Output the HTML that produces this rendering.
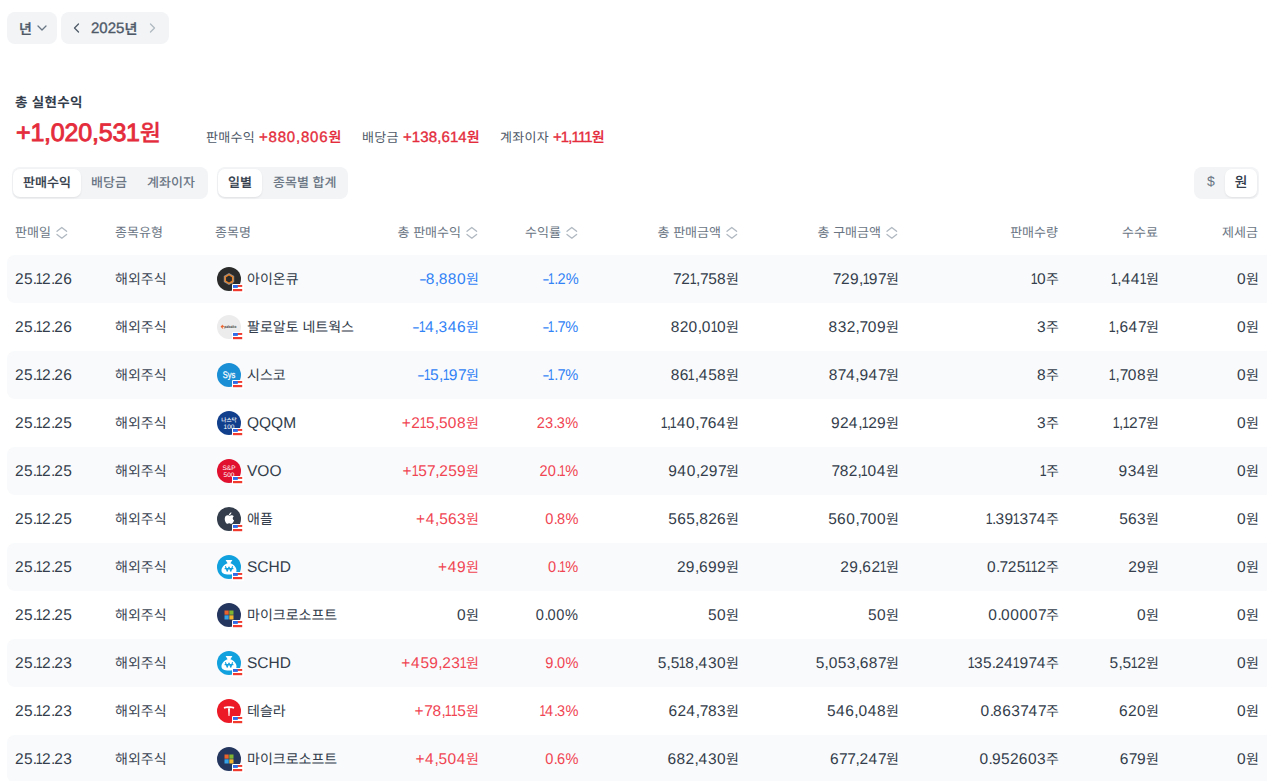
<!DOCTYPE html>
<html lang="ko"><head><meta charset="utf-8"><title>실현수익</title>
<style>
*{box-sizing:border-box;margin:0;padding:0}
html,body{width:1271px;height:781px;overflow:hidden;background:#fff}
body{position:relative;font-family:"Liberation Sans","Noto Sans CJK KR",sans-serif;color:#333d4b;text-rendering:geometricPrecision}
.abs{position:absolute}
.btn{position:absolute;top:12px;height:32px;background:#f2f4f6;border-radius:8px}
.btn span{position:absolute;white-space:nowrap}
.title{position:absolute;left:15px;top:94px;font-size:13.5px;letter-spacing:0.3px;font-weight:700;color:#333d4b;line-height:18px}
.big{position:absolute;left:16px;top:117px;font-size:25px;font-weight:400;-webkit-text-stroke:0.9px #e42c3c;color:#e42c3c;line-height:32px;letter-spacing:-0.2px}
.big .k{font-size:23px;font-weight:500;-webkit-text-stroke:0.3px #e42c3c}
.sub{position:absolute;top:129px;font-size:13px;letter-spacing:0.3px;line-height:18px;color:#4e5968;white-space:nowrap}
.subv{position:absolute;top:127px;font-size:15px;line-height:20px;color:#e42c3c;font-weight:400;-webkit-text-stroke:0.35px #e42c3c;letter-spacing:0.5px;white-space:nowrap}
.subv .k{font-size:14px;letter-spacing:0;font-weight:500;-webkit-text-stroke:0.2px #e42c3c}
.seg{position:absolute;top:167px;height:32px;background:#f2f4f6;border-radius:8px}
.seg span{position:absolute;top:2px;height:28px;line-height:28px;font-size:13px;font-weight:500;color:#6b7684;white-space:nowrap}
.seg span.on{background:#fff;border-radius:7px;color:#333d4b;font-weight:500;-webkit-text-stroke:0.15px #333d4b;box-shadow:0 1px 2px rgba(0,0,0,0.08)}
.hd{position:absolute;top:224px;font-size:13px;font-weight:400;line-height:18px;color:#6b7684;white-space:nowrap;display:flex;align-items:center}
.hd .sort{margin-left:5px;margin-top:-1px}
.row{position:absolute;left:7px;width:1260px;height:48px}
.row.odd{background:#f9fafb;border-radius:8px 0 0 8px}
.c{position:absolute;top:0;line-height:48px;font-size:15.5px;white-space:nowrap;color:#333d4b}
.c i{font-style:normal}
.c.rt{transform:scaleX(0.94);transform-origin:100% 50%;top:1px}
.c.d{top:1px}
.g0{letter-spacing:0.59px}.g2{letter-spacing:0.27px}.g3{letter-spacing:0.39px}.g4{letter-spacing:0.81px}.g5{letter-spacing:0.24px}.g6{letter-spacing:0.42px}.g7{letter-spacing:-0.39px}.g8{letter-spacing:0.41px}.g9{letter-spacing:0.42px}.gc{letter-spacing:-0.25px}.gp{letter-spacing:-0.9px}.gpl{letter-spacing:0.62px}.gpc{letter-spacing:0.69px}
.g1{display:inline-block;transform:scaleX(0.8);margin:0 -1.4px;letter-spacing:0}
.gm{display:inline-block;transform:scaleX(1.5);transform-origin:0 50%;margin-right:1.66px;letter-spacing:0}
.c .k{font-size:14px;letter-spacing:0}

.c.t{color:#3c4655}
.neg{color:#3182f6 !important}
.pos{color:#f04452 !important}
.ic{position:absolute;top:12px;width:24px;height:24px}
.ic svg{display:block}
.ic .flag{position:absolute;left:15px;top:17px}
</style></head><body>
<div class="btn" style="left:7px;width:50px"><span style="left:12px;top:6.5px;font-size:14px;font-weight:500;color:#4e5968;-webkit-text-stroke:0.3px #4e5968;line-height:20px">년</span>
<svg class="abs" style="left:30px;top:13px" width="10" height="6" viewBox="0 0 10 6"><path d="M1 1l4 4 4-4" stroke="#6b7684" stroke-width="1.3" fill="none" stroke-linecap="round" stroke-linejoin="round"/></svg></div>
<div class="btn" style="left:61px;width:108px">
<svg class="abs" style="left:12px;top:11px" width="7" height="10" viewBox="0 0 7 10"><path d="M5.5 1L1.5 5l4 4" stroke="#4e5968" stroke-width="1.3" fill="none" stroke-linecap="round" stroke-linejoin="round"/></svg>
<span style="left:30px;top:6.5px;font-size:15px;font-weight:500;color:#4e5968;-webkit-text-stroke:0.35px #4e5968;line-height:20px">2025<span style="font-size:14px">년</span></span>
<svg class="abs" style="left:88px;top:11px" width="7" height="10" viewBox="0 0 7 10"><path d="M1.5 1l4 4-4 4" stroke="#b0b8c1" stroke-width="1.3" fill="none" stroke-linecap="round" stroke-linejoin="round"/></svg></div>

<div class="title">총 실현수익</div>
<div class="big">+1,020,531<span class="k">원</span></div>
<div class="sub" style="left:206px">판매수익</div><div class="subv" style="left:259px;letter-spacing:0.8px">+880,806<span class="k">원</span></div>
<div class="sub" style="left:362px">배당금</div><div class="subv" style="left:403px;letter-spacing:0.1px">+138,614<span class="k">원</span></div>
<div class="sub" style="left:500px">계좌이자</div><div class="subv" style="left:553px;letter-spacing:-0.9px">+1,111<span class="k">원</span></div>

<div class="seg" style="left:12px;width:196px">
<span class="on" style="left:1px;width:68px;text-align:center">판매수익</span>
<span style="left:79px">배당금</span>
<span style="left:135px">계좌이자</span>
</div>
<div class="seg" style="left:217px;width:131px">
<span class="on" style="left:1px;width:44px;text-align:center">일별</span>
<span style="left:56px">종목별 합계</span>
</div>
<div class="seg" style="left:1194px;width:65px">
<span style="left:13px;top:0px;font-size:14px">$</span>
<span class="on" style="left:31px;width:32px;text-align:center;font-size:14px;font-weight:500;-webkit-text-stroke:0;line-height:27px">원</span>
</div>

<div class="hd" style="left:15px">판매일<svg class="sort" width="12" height="14" viewBox="0 0 12 14"><path d="M1 5.3L5.8 1.5l4.8 3.8M1 8.4l4.8 3.8 4.8-3.8" stroke="#b0b8c1" stroke-width="1.3" fill="none" stroke-linecap="round" stroke-linejoin="round"/></svg></div>
<div class="hd" style="left:115px">종목유형</div>
<div class="hd" style="left:215px">종목명</div>
<div class="hd" style="right:793px">총 판매수익<svg class="sort" width="12" height="14" viewBox="0 0 12 14"><path d="M1 5.3L5.8 1.5l4.8 3.8M1 8.4l4.8 3.8 4.8-3.8" stroke="#b0b8c1" stroke-width="1.3" fill="none" stroke-linecap="round" stroke-linejoin="round"/></svg></div>
<div class="hd" style="right:693px">수익률<svg class="sort" width="12" height="14" viewBox="0 0 12 14"><path d="M1 5.3L5.8 1.5l4.8 3.8M1 8.4l4.8 3.8 4.8-3.8" stroke="#b0b8c1" stroke-width="1.3" fill="none" stroke-linecap="round" stroke-linejoin="round"/></svg></div>
<div class="hd" style="right:533px">총 판매금액<svg class="sort" width="12" height="14" viewBox="0 0 12 14"><path d="M1 5.3L5.8 1.5l4.8 3.8M1 8.4l4.8 3.8 4.8-3.8" stroke="#b0b8c1" stroke-width="1.3" fill="none" stroke-linecap="round" stroke-linejoin="round"/></svg></div>
<div class="hd" style="right:373px">총 구매금액<svg class="sort" width="12" height="14" viewBox="0 0 12 14"><path d="M1 5.3L5.8 1.5l4.8 3.8M1 8.4l4.8 3.8 4.8-3.8" stroke="#b0b8c1" stroke-width="1.3" fill="none" stroke-linecap="round" stroke-linejoin="round"/></svg></div>
<div class="hd" style="right:213px">판매수량</div>
<div class="hd" style="right:113px">수수료</div>
<div class="hd" style="right:13px">제세금</div>

<div class="row odd" style="top:255px"><span class="c l d" style="left:8px"><i class="g2">2</i><i class="g5">5</i><i class="gp">.</i><i class="g1">1</i><i class="g2">2</i><i class="gp">.</i><i class="g2">2</i><i class="g6">6</i></span><span class="c l t" style="left:108px"><span class="k">해외주식</span></span><span class="ic" style="left:210px"><svg width="24" height="24" viewBox="0 0 24 24"><circle cx="12" cy="12" r="12" fill="#2b2b2b"/><path d="M12 6l5.2 3v6L12 18l-5.2-3V9z" fill="#8c8c8c"/><path d="M12 6.9l4.4 2.55v5.1L12 17.1l-4.4-2.55v-5.1z" fill="#e8822a"/><path d="M12 8.6l2.95 1.7v3.4L12 15.4l-2.95-1.7v-3.4z" fill="#2b2b2b"/><path d="M14.6 14.9l1.6.9-0.6.9-1.6-.9z" fill="#e8822a"/></svg><svg class="flag" width="12" height="9" viewBox="0 0 12 9"><rect x="0" y="0" width="12" height="9" rx="1" fill="#fff"/><rect x="1" y="1" width="9.2" height="1.9" fill="#f03a2e"/><rect x="1" y="5" width="9.2" height="2.2" fill="#f03a2e"/><rect x="1" y="1" width="4.8" height="2.9" fill="#2f6be8"/></svg></span><span class="c l" style="left:240px"><span class="k">아이온큐</span></span><span class="c r neg" style="right:788px"><i class="gm">-</i><i class="g8">8</i><i class="gc">,</i><i class="g8">8</i><i class="g8">8</i><i class="g0">0</i><span class="k">원</span></span><span class="c r neg rt" style="right:688px"><i class="gm">-</i><i class="g1">1</i><i class="gp">.</i><i class="g2">2</i><i class="gpc">%</i></span><span class="c r" style="right:528px"><i class="g7">7</i><i class="g2">2</i><i class="g1">1</i><i class="gc">,</i><i class="g7">7</i><i class="g5">5</i><i class="g8">8</i><span class="k">원</span></span><span class="c r" style="right:368px"><i class="g7">7</i><i class="g2">2</i><i class="g9">9</i><i class="gc">,</i><i class="g1">1</i><i class="g9">9</i><i class="g7">7</i><span class="k">원</span></span><span class="c r" style="right:208px"><i class="g1">1</i><i class="g0">0</i><span class="k">주</span></span><span class="c r" style="right:108px"><i class="g1">1</i><i class="gc">,</i><i class="g4">4</i><i class="g4">4</i><i class="g1">1</i><span class="k">원</span></span><span class="c r" style="right:8px"><i class="g0">0</i><span class="k">원</span></span></div>
<div class="row" style="top:303px"><span class="c l d" style="left:8px"><i class="g2">2</i><i class="g5">5</i><i class="gp">.</i><i class="g1">1</i><i class="g2">2</i><i class="gp">.</i><i class="g2">2</i><i class="g6">6</i></span><span class="c l t" style="left:108px"><span class="k">해외주식</span></span><span class="ic" style="left:210px"><svg width="24" height="24" viewBox="0 0 24 24"><circle cx="12" cy="12" r="12" fill="#ececec"/><path d="M3.6 11.6l1.6-1.5 1.3 1.2-1.3 1.2 1.3 1.2-1.3-0.1z" fill="#f0622d"/><path d="M5.4 10.2l1.3 1.2-1.3 1.2" fill="none" stroke="#f0622d" stroke-width="1"/><text x="7.3" y="12.6" font-family="Liberation Sans, sans-serif" font-size="4" font-weight="700" fill="#3a3a3a" textLength="12" lengthAdjust="spacingAndGlyphs">paloalto</text></svg><svg class="flag" width="12" height="9" viewBox="0 0 12 9"><rect x="0" y="0" width="12" height="9" rx="1" fill="#fff"/><rect x="1" y="1" width="9.2" height="1.9" fill="#f03a2e"/><rect x="1" y="5" width="9.2" height="2.2" fill="#f03a2e"/><rect x="1" y="1" width="4.8" height="2.9" fill="#2f6be8"/></svg></span><span class="c l" style="left:240px"><span class="k">팔로알토 네트웍스</span></span><span class="c r neg" style="right:788px"><i class="gm">-</i><i class="g1">1</i><i class="g4">4</i><i class="gc">,</i><i class="g3">3</i><i class="g4">4</i><i class="g6">6</i><span class="k">원</span></span><span class="c r neg rt" style="right:688px"><i class="gm">-</i><i class="g1">1</i><i class="gp">.</i><i class="g7">7</i><i class="gpc">%</i></span><span class="c r" style="right:528px"><i class="g8">8</i><i class="g2">2</i><i class="g0">0</i><i class="gc">,</i><i class="g0">0</i><i class="g1">1</i><i class="g0">0</i><span class="k">원</span></span><span class="c r" style="right:368px"><i class="g8">8</i><i class="g3">3</i><i class="g2">2</i><i class="gc">,</i><i class="g7">7</i><i class="g0">0</i><i class="g9">9</i><span class="k">원</span></span><span class="c r" style="right:208px"><i class="g3">3</i><span class="k">주</span></span><span class="c r" style="right:108px"><i class="g1">1</i><i class="gc">,</i><i class="g6">6</i><i class="g4">4</i><i class="g7">7</i><span class="k">원</span></span><span class="c r" style="right:8px"><i class="g0">0</i><span class="k">원</span></span></div>
<div class="row odd" style="top:351px"><span class="c l d" style="left:8px"><i class="g2">2</i><i class="g5">5</i><i class="gp">.</i><i class="g1">1</i><i class="g2">2</i><i class="gp">.</i><i class="g2">2</i><i class="g6">6</i></span><span class="c l t" style="left:108px"><span class="k">해외주식</span></span><span class="ic" style="left:210px"><svg width="24" height="24" viewBox="0 0 24 24"><circle cx="12" cy="12" r="12" fill="#1a8fd6"/><text x="12" y="15.3" text-anchor="middle" font-family="Liberation Sans, sans-serif" font-size="9.5" font-weight="400" fill="#fff" textLength="12.5" lengthAdjust="spacingAndGlyphs" stroke="#fff" stroke-width="0.25">Sys</text></svg><svg class="flag" width="12" height="9" viewBox="0 0 12 9"><rect x="0" y="0" width="12" height="9" rx="1" fill="#fff"/><rect x="1" y="1" width="9.2" height="1.9" fill="#f03a2e"/><rect x="1" y="5" width="9.2" height="2.2" fill="#f03a2e"/><rect x="1" y="1" width="4.8" height="2.9" fill="#2f6be8"/></svg></span><span class="c l" style="left:240px"><span class="k">시스코</span></span><span class="c r neg" style="right:788px"><i class="gm">-</i><i class="g1">1</i><i class="g5">5</i><i class="gc">,</i><i class="g1">1</i><i class="g9">9</i><i class="g7">7</i><span class="k">원</span></span><span class="c r neg rt" style="right:688px"><i class="gm">-</i><i class="g1">1</i><i class="gp">.</i><i class="g7">7</i><i class="gpc">%</i></span><span class="c r" style="right:528px"><i class="g8">8</i><i class="g6">6</i><i class="g1">1</i><i class="gc">,</i><i class="g4">4</i><i class="g5">5</i><i class="g8">8</i><span class="k">원</span></span><span class="c r" style="right:368px"><i class="g8">8</i><i class="g7">7</i><i class="g4">4</i><i class="gc">,</i><i class="g9">9</i><i class="g4">4</i><i class="g7">7</i><span class="k">원</span></span><span class="c r" style="right:208px"><i class="g8">8</i><span class="k">주</span></span><span class="c r" style="right:108px"><i class="g1">1</i><i class="gc">,</i><i class="g7">7</i><i class="g0">0</i><i class="g8">8</i><span class="k">원</span></span><span class="c r" style="right:8px"><i class="g0">0</i><span class="k">원</span></span></div>
<div class="row" style="top:399px"><span class="c l d" style="left:8px"><i class="g2">2</i><i class="g5">5</i><i class="gp">.</i><i class="g1">1</i><i class="g2">2</i><i class="gp">.</i><i class="g2">2</i><i class="g5">5</i></span><span class="c l t" style="left:108px"><span class="k">해외주식</span></span><span class="ic" style="left:210px"><svg width="24" height="24" viewBox="0 0 24 24"><circle cx="12" cy="12" r="12" fill="#123f8c"/><text x="12" y="10.5" text-anchor="middle" font-family="Noto Sans CJK KR, sans-serif" font-size="5.6" font-weight="500" fill="#fff">나스닥</text><text x="12" y="17.5" text-anchor="middle" font-family="Liberation Sans, sans-serif" font-size="6.5" font-weight="400" fill="#fff">100</text></svg><svg class="flag" width="12" height="9" viewBox="0 0 12 9"><rect x="0" y="0" width="12" height="9" rx="1" fill="#fff"/><rect x="1" y="1" width="9.2" height="1.9" fill="#f03a2e"/><rect x="1" y="5" width="9.2" height="2.2" fill="#f03a2e"/><rect x="1" y="1" width="4.8" height="2.9" fill="#2f6be8"/></svg></span><span class="c l d" style="left:240px">QQQM</span><span class="c r pos" style="right:788px"><i class="gpl">+</i><i class="g2">2</i><i class="g1">1</i><i class="g5">5</i><i class="gc">,</i><i class="g5">5</i><i class="g0">0</i><i class="g8">8</i><span class="k">원</span></span><span class="c r pos rt" style="right:688px"><i class="g2">2</i><i class="g3">3</i><i class="gp">.</i><i class="g3">3</i><i class="gpc">%</i></span><span class="c r" style="right:528px"><i class="g1">1</i><i class="gc">,</i><i class="g1">1</i><i class="g4">4</i><i class="g0">0</i><i class="gc">,</i><i class="g7">7</i><i class="g6">6</i><i class="g4">4</i><span class="k">원</span></span><span class="c r" style="right:368px"><i class="g9">9</i><i class="g2">2</i><i class="g4">4</i><i class="gc">,</i><i class="g1">1</i><i class="g2">2</i><i class="g9">9</i><span class="k">원</span></span><span class="c r" style="right:208px"><i class="g3">3</i><span class="k">주</span></span><span class="c r" style="right:108px"><i class="g1">1</i><i class="gc">,</i><i class="g1">1</i><i class="g2">2</i><i class="g7">7</i><span class="k">원</span></span><span class="c r" style="right:8px"><i class="g0">0</i><span class="k">원</span></span></div>
<div class="row odd" style="top:447px"><span class="c l d" style="left:8px"><i class="g2">2</i><i class="g5">5</i><i class="gp">.</i><i class="g1">1</i><i class="g2">2</i><i class="gp">.</i><i class="g2">2</i><i class="g5">5</i></span><span class="c l t" style="left:108px"><span class="k">해외주식</span></span><span class="ic" style="left:210px"><svg width="24" height="24" viewBox="0 0 24 24"><circle cx="12" cy="12" r="12" fill="#e0102e"/><text x="12" y="10.8" text-anchor="middle" font-family="Liberation Sans, sans-serif" font-size="6.5" font-weight="400" fill="#fff">S&amp;P</text><text x="12" y="17.5" text-anchor="middle" font-family="Liberation Sans, sans-serif" font-size="6.5" font-weight="400" fill="#fff">500</text></svg><svg class="flag" width="12" height="9" viewBox="0 0 12 9"><rect x="0" y="0" width="12" height="9" rx="1" fill="#fff"/><rect x="1" y="1" width="9.2" height="1.9" fill="#f03a2e"/><rect x="1" y="5" width="9.2" height="2.2" fill="#f03a2e"/><rect x="1" y="1" width="4.8" height="2.9" fill="#2f6be8"/></svg></span><span class="c l d" style="left:240px">VOO</span><span class="c r pos" style="right:788px"><i class="gpl">+</i><i class="g1">1</i><i class="g5">5</i><i class="g7">7</i><i class="gc">,</i><i class="g2">2</i><i class="g5">5</i><i class="g9">9</i><span class="k">원</span></span><span class="c r pos rt" style="right:688px"><i class="g2">2</i><i class="g0">0</i><i class="gp">.</i><i class="g1">1</i><i class="gpc">%</i></span><span class="c r" style="right:528px"><i class="g9">9</i><i class="g4">4</i><i class="g0">0</i><i class="gc">,</i><i class="g2">2</i><i class="g9">9</i><i class="g7">7</i><span class="k">원</span></span><span class="c r" style="right:368px"><i class="g7">7</i><i class="g8">8</i><i class="g2">2</i><i class="gc">,</i><i class="g1">1</i><i class="g0">0</i><i class="g4">4</i><span class="k">원</span></span><span class="c r" style="right:208px"><i class="g1">1</i><span class="k">주</span></span><span class="c r" style="right:108px"><i class="g9">9</i><i class="g3">3</i><i class="g4">4</i><span class="k">원</span></span><span class="c r" style="right:8px"><i class="g0">0</i><span class="k">원</span></span></div>
<div class="row" style="top:495px"><span class="c l d" style="left:8px"><i class="g2">2</i><i class="g5">5</i><i class="gp">.</i><i class="g1">1</i><i class="g2">2</i><i class="gp">.</i><i class="g2">2</i><i class="g5">5</i></span><span class="c l t" style="left:108px"><span class="k">해외주식</span></span><span class="ic" style="left:210px"><svg width="24" height="24" viewBox="0 0 24 24"><circle cx="12" cy="12" r="12" fill="#333d4b"/><g transform="translate(12 12) scale(1.3) translate(-12 -12)"><path d="M12.3 7.9c.4-.6.9-1 1.5-1.1.1.7-.2 1.3-.6 1.7-.4.4-.9.6-1.3.6-.1-.5.1-.9.4-1.2zM9.4 9.7c.8-.7 1.8-.7 2.6-.3.4.2.7.2 1.1 0 .9-.4 2-.3 2.6.5-1.2.8-1.1 2.6.2 3.2-.4 1.1-1.1 2.2-1.8 2.5-.5.2-.9 0-1.4-.2-.4-.1-.8-.1-1.2.1-.5.2-1 .3-1.4-.1-1.2-1.1-2-3.9-.7-5.7z" fill="#fff"/></g></svg><svg class="flag" width="12" height="9" viewBox="0 0 12 9"><rect x="0" y="0" width="12" height="9" rx="1" fill="#fff"/><rect x="1" y="1" width="9.2" height="1.9" fill="#f03a2e"/><rect x="1" y="5" width="9.2" height="2.2" fill="#f03a2e"/><rect x="1" y="1" width="4.8" height="2.9" fill="#2f6be8"/></svg></span><span class="c l" style="left:240px"><span class="k">애플</span></span><span class="c r pos" style="right:788px"><i class="gpl">+</i><i class="g4">4</i><i class="gc">,</i><i class="g5">5</i><i class="g6">6</i><i class="g3">3</i><span class="k">원</span></span><span class="c r pos rt" style="right:688px"><i class="g0">0</i><i class="gp">.</i><i class="g8">8</i><i class="gpc">%</i></span><span class="c r" style="right:528px"><i class="g5">5</i><i class="g6">6</i><i class="g5">5</i><i class="gc">,</i><i class="g8">8</i><i class="g2">2</i><i class="g6">6</i><span class="k">원</span></span><span class="c r" style="right:368px"><i class="g5">5</i><i class="g6">6</i><i class="g0">0</i><i class="gc">,</i><i class="g7">7</i><i class="g0">0</i><i class="g0">0</i><span class="k">원</span></span><span class="c r" style="right:208px"><i class="g1">1</i><i class="gp">.</i><i class="g3">3</i><i class="g9">9</i><i class="g1">1</i><i class="g3">3</i><i class="g7">7</i><i class="g4">4</i><span class="k">주</span></span><span class="c r" style="right:108px"><i class="g5">5</i><i class="g6">6</i><i class="g3">3</i><span class="k">원</span></span><span class="c r" style="right:8px"><i class="g0">0</i><span class="k">원</span></span></div>
<div class="row odd" style="top:543px"><span class="c l d" style="left:8px"><i class="g2">2</i><i class="g5">5</i><i class="gp">.</i><i class="g1">1</i><i class="g2">2</i><i class="gp">.</i><i class="g2">2</i><i class="g5">5</i></span><span class="c l t" style="left:108px"><span class="k">해외주식</span></span><span class="ic" style="left:210px"><svg width="24" height="24" viewBox="0 0 24 24"><circle cx="12" cy="12" r="12" fill="#12a1df"/><path d="M8.6 5h6.8l-2 3.2c3.6 1.2 6.1 4.2 6.1 7.2 0 2.7-2.6 4.1-7.5 4.1s-7.5-1.4-7.5-4.1c0-3 2.5-6 6.1-7.2z" fill="#fff"/><path d="M8.4 11.2l1.8 5 1.8-4.2 1.8 4.2 1.8-5M7.6 13.6h8.8" stroke="#12a1df" stroke-width="1.1" fill="none" stroke-linejoin="round"/></svg><svg class="flag" width="12" height="9" viewBox="0 0 12 9"><rect x="0" y="0" width="12" height="9" rx="1" fill="#fff"/><rect x="1" y="1" width="9.2" height="1.9" fill="#f03a2e"/><rect x="1" y="5" width="9.2" height="2.2" fill="#f03a2e"/><rect x="1" y="1" width="4.8" height="2.9" fill="#2f6be8"/></svg></span><span class="c l d" style="left:240px">SCHD</span><span class="c r pos" style="right:788px"><i class="gpl">+</i><i class="g4">4</i><i class="g9">9</i><span class="k">원</span></span><span class="c r pos rt" style="right:688px"><i class="g0">0</i><i class="gp">.</i><i class="g1">1</i><i class="gpc">%</i></span><span class="c r" style="right:528px"><i class="g2">2</i><i class="g9">9</i><i class="gc">,</i><i class="g6">6</i><i class="g9">9</i><i class="g9">9</i><span class="k">원</span></span><span class="c r" style="right:368px"><i class="g2">2</i><i class="g9">9</i><i class="gc">,</i><i class="g6">6</i><i class="g2">2</i><i class="g1">1</i><span class="k">원</span></span><span class="c r" style="right:208px"><i class="g0">0</i><i class="gp">.</i><i class="g7">7</i><i class="g2">2</i><i class="g5">5</i><i class="g1">1</i><i class="g1">1</i><i class="g2">2</i><span class="k">주</span></span><span class="c r" style="right:108px"><i class="g2">2</i><i class="g9">9</i><span class="k">원</span></span><span class="c r" style="right:8px"><i class="g0">0</i><span class="k">원</span></span></div>
<div class="row" style="top:591px"><span class="c l d" style="left:8px"><i class="g2">2</i><i class="g5">5</i><i class="gp">.</i><i class="g1">1</i><i class="g2">2</i><i class="gp">.</i><i class="g2">2</i><i class="g5">5</i></span><span class="c l t" style="left:108px"><span class="k">해외주식</span></span><span class="ic" style="left:210px"><svg width="24" height="24" viewBox="0 0 24 24"><circle cx="12" cy="12" r="12" fill="#24355e"/><rect x="7.5" y="7.5" width="4.2" height="4.2" fill="#e9632c"/><rect x="12.3" y="7.5" width="4.2" height="4.2" fill="#80b532"/><rect x="7.5" y="12.3" width="4.2" height="4.2" fill="#35a3e6"/><rect x="12.3" y="12.3" width="4.2" height="4.2" fill="#f4b52c"/></svg><svg class="flag" width="12" height="9" viewBox="0 0 12 9"><rect x="0" y="0" width="12" height="9" rx="1" fill="#fff"/><rect x="1" y="1" width="9.2" height="1.9" fill="#f03a2e"/><rect x="1" y="5" width="9.2" height="2.2" fill="#f03a2e"/><rect x="1" y="1" width="4.8" height="2.9" fill="#2f6be8"/></svg></span><span class="c l" style="left:240px"><span class="k">마이크로소프트</span></span><span class="c r zero" style="right:788px"><i class="g0">0</i><span class="k">원</span></span><span class="c r zero rt" style="right:688px"><i class="g0">0</i><i class="gp">.</i><i class="g0">0</i><i class="g0">0</i><i class="gpc">%</i></span><span class="c r" style="right:528px"><i class="g5">5</i><i class="g0">0</i><span class="k">원</span></span><span class="c r" style="right:368px"><i class="g5">5</i><i class="g0">0</i><span class="k">원</span></span><span class="c r" style="right:208px"><i class="g0">0</i><i class="gp">.</i><i class="g0">0</i><i class="g0">0</i><i class="g0">0</i><i class="g0">0</i><i class="g7">7</i><span class="k">주</span></span><span class="c r" style="right:108px"><i class="g0">0</i><span class="k">원</span></span><span class="c r" style="right:8px"><i class="g0">0</i><span class="k">원</span></span></div>
<div class="row odd" style="top:639px"><span class="c l d" style="left:8px"><i class="g2">2</i><i class="g5">5</i><i class="gp">.</i><i class="g1">1</i><i class="g2">2</i><i class="gp">.</i><i class="g2">2</i><i class="g3">3</i></span><span class="c l t" style="left:108px"><span class="k">해외주식</span></span><span class="ic" style="left:210px"><svg width="24" height="24" viewBox="0 0 24 24"><circle cx="12" cy="12" r="12" fill="#12a1df"/><path d="M8.6 5h6.8l-2 3.2c3.6 1.2 6.1 4.2 6.1 7.2 0 2.7-2.6 4.1-7.5 4.1s-7.5-1.4-7.5-4.1c0-3 2.5-6 6.1-7.2z" fill="#fff"/><path d="M8.4 11.2l1.8 5 1.8-4.2 1.8 4.2 1.8-5M7.6 13.6h8.8" stroke="#12a1df" stroke-width="1.1" fill="none" stroke-linejoin="round"/></svg><svg class="flag" width="12" height="9" viewBox="0 0 12 9"><rect x="0" y="0" width="12" height="9" rx="1" fill="#fff"/><rect x="1" y="1" width="9.2" height="1.9" fill="#f03a2e"/><rect x="1" y="5" width="9.2" height="2.2" fill="#f03a2e"/><rect x="1" y="1" width="4.8" height="2.9" fill="#2f6be8"/></svg></span><span class="c l d" style="left:240px">SCHD</span><span class="c r pos" style="right:788px"><i class="gpl">+</i><i class="g4">4</i><i class="g5">5</i><i class="g9">9</i><i class="gc">,</i><i class="g2">2</i><i class="g3">3</i><i class="g1">1</i><span class="k">원</span></span><span class="c r pos rt" style="right:688px"><i class="g9">9</i><i class="gp">.</i><i class="g0">0</i><i class="gpc">%</i></span><span class="c r" style="right:528px"><i class="g5">5</i><i class="gc">,</i><i class="g5">5</i><i class="g1">1</i><i class="g8">8</i><i class="gc">,</i><i class="g4">4</i><i class="g3">3</i><i class="g0">0</i><span class="k">원</span></span><span class="c r" style="right:368px"><i class="g5">5</i><i class="gc">,</i><i class="g0">0</i><i class="g5">5</i><i class="g3">3</i><i class="gc">,</i><i class="g6">6</i><i class="g8">8</i><i class="g7">7</i><span class="k">원</span></span><span class="c r" style="right:208px"><i class="g1">1</i><i class="g3">3</i><i class="g5">5</i><i class="gp">.</i><i class="g2">2</i><i class="g4">4</i><i class="g1">1</i><i class="g9">9</i><i class="g7">7</i><i class="g4">4</i><span class="k">주</span></span><span class="c r" style="right:108px"><i class="g5">5</i><i class="gc">,</i><i class="g5">5</i><i class="g1">1</i><i class="g2">2</i><span class="k">원</span></span><span class="c r" style="right:8px"><i class="g0">0</i><span class="k">원</span></span></div>
<div class="row" style="top:687px"><span class="c l d" style="left:8px"><i class="g2">2</i><i class="g5">5</i><i class="gp">.</i><i class="g1">1</i><i class="g2">2</i><i class="gp">.</i><i class="g2">2</i><i class="g3">3</i></span><span class="c l t" style="left:108px"><span class="k">해외주식</span></span><span class="ic" style="left:210px"><svg width="24" height="24" viewBox="0 0 24 24"><circle cx="12" cy="12" r="12" fill="#ec1a26"/><path d="M6.7 7.9C9.2 7 14.8 7 17.3 7.9l-.5 1.9c-1.2-.5-2.4-.7-3.3-.7l-.5.7L12.5 17h-1l-.5-7.2-.5-.7c-.9 0-2.1.2-3.3.7z" fill="#fff"/><path d="M11.3 9.2h1.4l-.7.7z" fill="#ec1a26"/></svg><svg class="flag" width="12" height="9" viewBox="0 0 12 9"><rect x="0" y="0" width="12" height="9" rx="1" fill="#fff"/><rect x="1" y="1" width="9.2" height="1.9" fill="#f03a2e"/><rect x="1" y="5" width="9.2" height="2.2" fill="#f03a2e"/><rect x="1" y="1" width="4.8" height="2.9" fill="#2f6be8"/></svg></span><span class="c l" style="left:240px"><span class="k">테슬라</span></span><span class="c r pos" style="right:788px"><i class="gpl">+</i><i class="g7">7</i><i class="g8">8</i><i class="gc">,</i><i class="g1">1</i><i class="g1">1</i><i class="g5">5</i><span class="k">원</span></span><span class="c r pos rt" style="right:688px"><i class="g1">1</i><i class="g4">4</i><i class="gp">.</i><i class="g3">3</i><i class="gpc">%</i></span><span class="c r" style="right:528px"><i class="g6">6</i><i class="g2">2</i><i class="g4">4</i><i class="gc">,</i><i class="g7">7</i><i class="g8">8</i><i class="g3">3</i><span class="k">원</span></span><span class="c r" style="right:368px"><i class="g5">5</i><i class="g4">4</i><i class="g6">6</i><i class="gc">,</i><i class="g0">0</i><i class="g4">4</i><i class="g8">8</i><span class="k">원</span></span><span class="c r" style="right:208px"><i class="g0">0</i><i class="gp">.</i><i class="g8">8</i><i class="g6">6</i><i class="g3">3</i><i class="g7">7</i><i class="g4">4</i><i class="g7">7</i><span class="k">주</span></span><span class="c r" style="right:108px"><i class="g6">6</i><i class="g2">2</i><i class="g0">0</i><span class="k">원</span></span><span class="c r" style="right:8px"><i class="g0">0</i><span class="k">원</span></span></div>
<div class="row odd" style="top:735px"><span class="c l d" style="left:8px"><i class="g2">2</i><i class="g5">5</i><i class="gp">.</i><i class="g1">1</i><i class="g2">2</i><i class="gp">.</i><i class="g2">2</i><i class="g3">3</i></span><span class="c l t" style="left:108px"><span class="k">해외주식</span></span><span class="ic" style="left:210px"><svg width="24" height="24" viewBox="0 0 24 24"><circle cx="12" cy="12" r="12" fill="#24355e"/><rect x="7.5" y="7.5" width="4.2" height="4.2" fill="#e9632c"/><rect x="12.3" y="7.5" width="4.2" height="4.2" fill="#80b532"/><rect x="7.5" y="12.3" width="4.2" height="4.2" fill="#35a3e6"/><rect x="12.3" y="12.3" width="4.2" height="4.2" fill="#f4b52c"/></svg><svg class="flag" width="12" height="9" viewBox="0 0 12 9"><rect x="0" y="0" width="12" height="9" rx="1" fill="#fff"/><rect x="1" y="1" width="9.2" height="1.9" fill="#f03a2e"/><rect x="1" y="5" width="9.2" height="2.2" fill="#f03a2e"/><rect x="1" y="1" width="4.8" height="2.9" fill="#2f6be8"/></svg></span><span class="c l" style="left:240px"><span class="k">마이크로소프트</span></span><span class="c r pos" style="right:788px"><i class="gpl">+</i><i class="g4">4</i><i class="gc">,</i><i class="g5">5</i><i class="g0">0</i><i class="g4">4</i><span class="k">원</span></span><span class="c r pos rt" style="right:688px"><i class="g0">0</i><i class="gp">.</i><i class="g6">6</i><i class="gpc">%</i></span><span class="c r" style="right:528px"><i class="g6">6</i><i class="g8">8</i><i class="g2">2</i><i class="gc">,</i><i class="g4">4</i><i class="g3">3</i><i class="g0">0</i><span class="k">원</span></span><span class="c r" style="right:368px"><i class="g6">6</i><i class="g7">7</i><i class="g7">7</i><i class="gc">,</i><i class="g2">2</i><i class="g4">4</i><i class="g7">7</i><span class="k">원</span></span><span class="c r" style="right:208px"><i class="g0">0</i><i class="gp">.</i><i class="g9">9</i><i class="g5">5</i><i class="g2">2</i><i class="g6">6</i><i class="g0">0</i><i class="g3">3</i><span class="k">주</span></span><span class="c r" style="right:108px"><i class="g6">6</i><i class="g7">7</i><i class="g9">9</i><span class="k">원</span></span><span class="c r" style="right:8px"><i class="g0">0</i><span class="k">원</span></span></div>
</body></html>
